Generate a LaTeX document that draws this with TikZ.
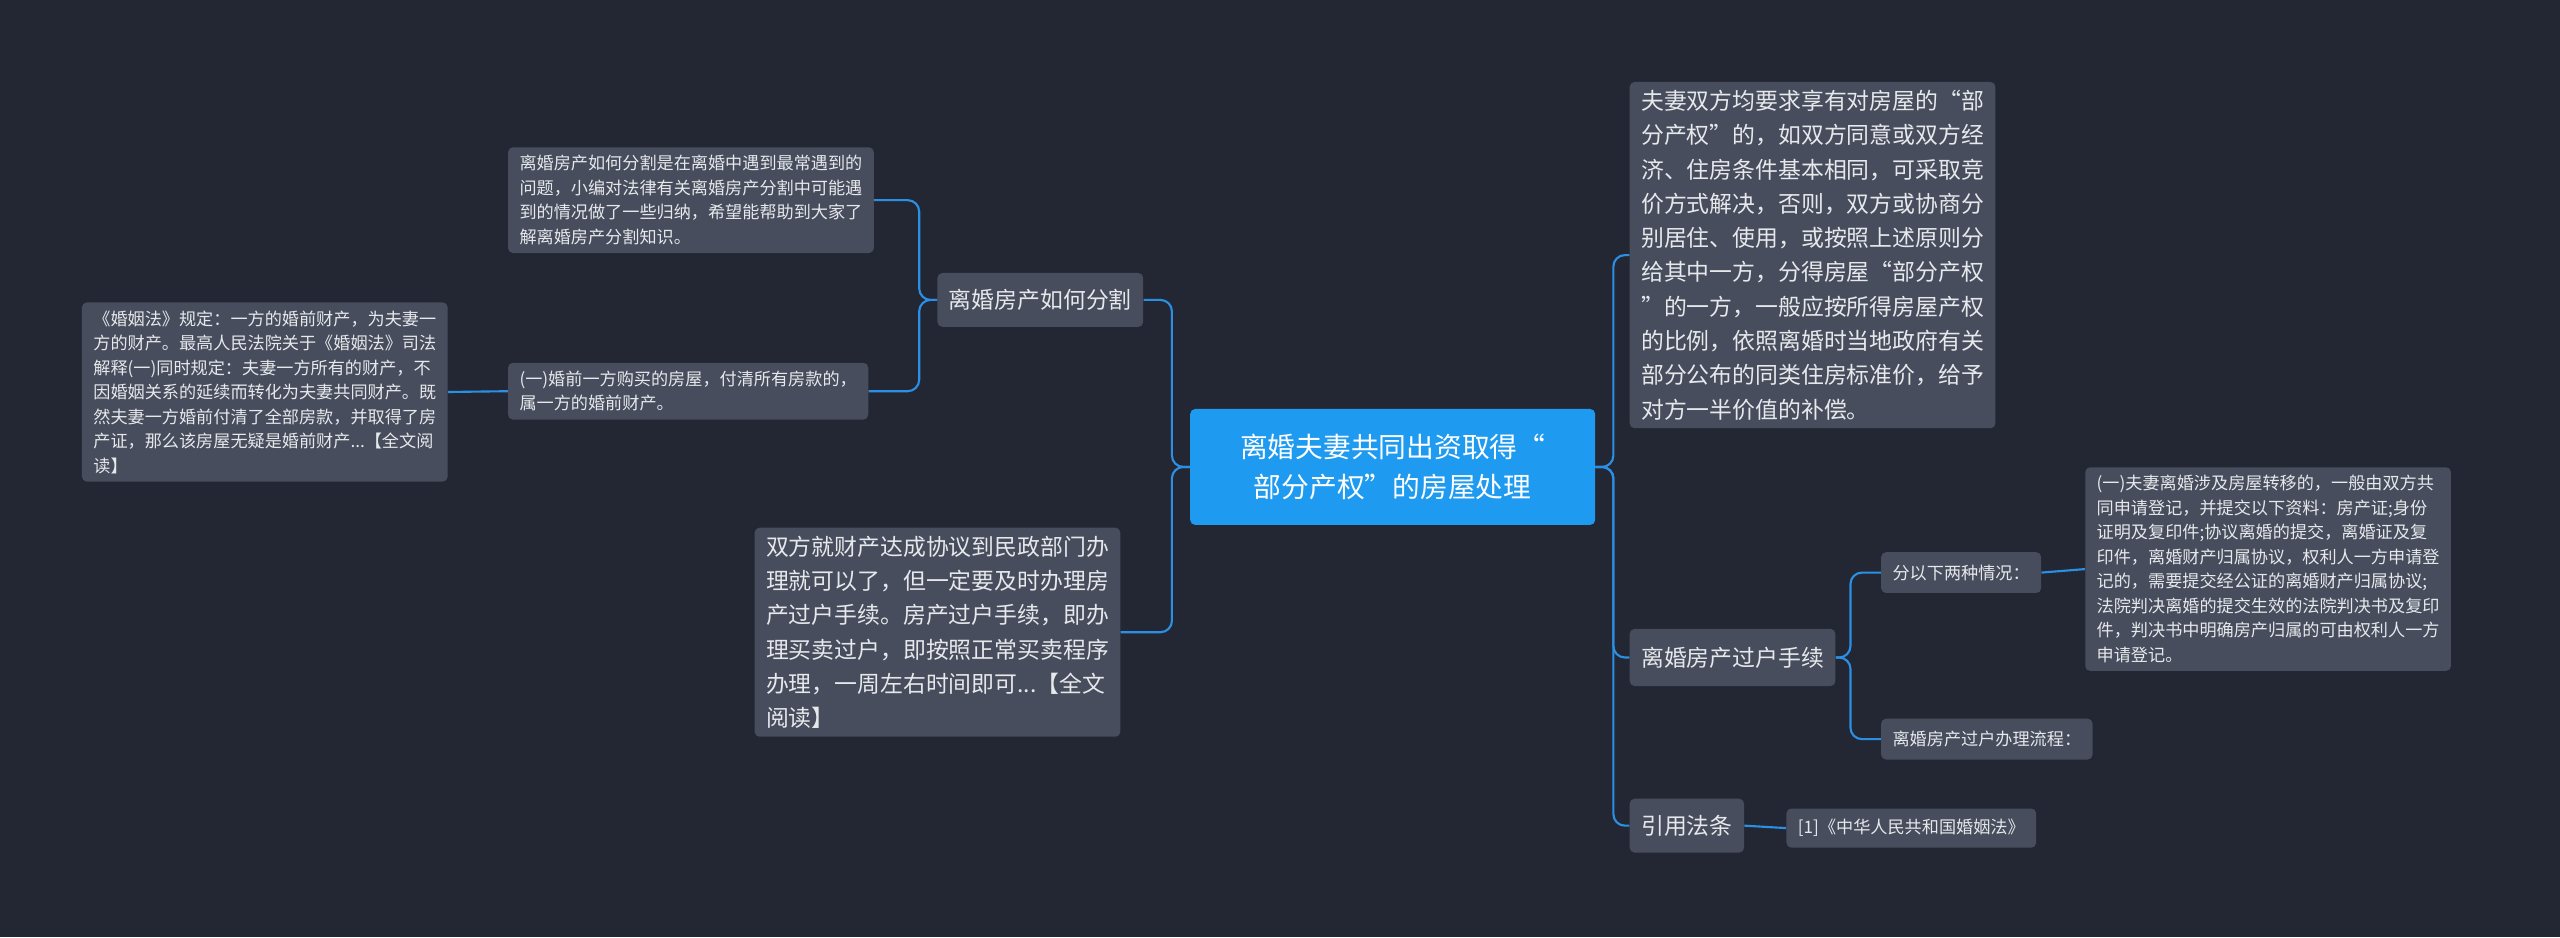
\documentclass[tikz,border=0pt]{standalone}
\usepackage{fontspec}
\setmainfont{Noto Sans CJK SC}
\begin{document}
\begin{tikzpicture}[x=1pt,y=-1pt,
  box/.style={fill=boxc,text=txt,rounded corners=3pt,anchor=north west,align=left,inner xsep=7pt,inner ysep=5pt},
  sm/.style={box,font=\fontsize{10.5}{15}\selectfont},
  md/.style={box,font=\fontsize{14}{21}\selectfont},
  conn/.style={draw=lc,line width=1.3pt,rounded corners=7pt}]
\definecolor{bg}{HTML}{232733}
\definecolor{boxc}{HTML}{474D5C}
\definecolor{txt}{HTML}{E6E8EC}
\definecolor{lc}{HTML}{2B8FE3}
\definecolor{rootc}{HTML}{1E9AF0}
\fill[bg] (0,0) rectangle (1568,574);
\useasboundingbox (0,0) rectangle (1568,574);
\node[fill=rootc,text=white,rounded corners=3pt,align=center,font=\fontsize{17}{25}\selectfont,minimum width=248pt,minimum height=71pt] (root) at (853,286) {离婚夫妻共同出资取得“\\部分产权”的房屋处理};
\node[md,minimum height=33pt] (b1) at (574,167) {离婚房产如何分割};
\node[sm] (la) at (311,90) {离婚房产如何分割是在离婚中遇到最常遇到的\\问题，小编对法律有关离婚房产分割中可能遇\\到的情况做了一些归纳，希望能帮助到大家了\\解离婚房产分割知识。};
\node[sm] (lb) at (311,222) {(一)婚前一方购买的房屋，付清所有房款的，\\属一方的婚前财产。};
\node[sm] (lc) at (50,185) {《婚姻法》规定：一方的婚前财产，为夫妻一\\方的财产。最高人民法院关于《婚姻法》司法\\解释(一)同时规定：夫妻一方所有的财产，不\\因婚姻关系的延续而转化为夫妻共同财产。既\\然夫妻一方婚前付清了全部房款，并取得了房\\产证，那么该房屋无疑是婚前财产...【全文阅\\读】};
\node[md] (b2) at (462,323) {双方就财产达成协议到民政部门办\\理就可以了，但一定要及时办理房\\产过户手续。房产过户手续，即办\\理买卖过户，即按照正常买卖程序\\办理，一周左右时间即可...【全文\\阅读】};
\node[md] (r1) at (998,50) {夫妻双方均要求享有对房屋的“部\\分产权”的，如双方同意或双方经\\济、住房条件基本相同，可采取竞\\价方式解决，否则，双方或协商分\\别居住、使用，或按照上述原则分\\给其中一方，分得房屋“部分产权\\”的一方，一般应按所得房屋产权\\的比例，依照离婚时当地政府有关\\部分公布的同类住房标准价，给予\\对方一半价值的补偿。};
\node[md,minimum height=35pt] (r2) at (998,385) {离婚房产过户手续};
\node[sm,minimum height=25pt] (s1) at (1152,338) {分以下两种情况：};
\node[sm] (s1a) at (1277,286) {(一)夫妻离婚涉及房屋转移的，一般由双方共\\同申请登记，并提交以下资料：房产证;身份\\证明及复印件;协议离婚的提交，离婚证及复\\印件，离婚财产归属协议，权利人一方申请登\\记的，需要提交经公证的离婚财产归属协议;\\法院判决离婚的提交生效的法院判决书及复印\\件，判决书中明确房产归属的可由权利人一方\\申请登记。};
\node[sm,minimum height=25pt] (s2) at (1152,440) {离婚房产过户办理流程：};
\node[md,minimum height=33pt] (r3) at (998,489) {引用法条};
\node[sm,minimum height=24pt] (r3a) at (1094,495) {[1]《中华人民共和国婚姻法》};
\draw[conn] (root.west) -- ++(-11,0) |- (b1.east);
\draw[conn] (root.west) -- ++(-11,0) |- (b2.east);
\draw[conn] (b1.west) -- ++(-11,0) |- (la.east);
\draw[conn] (b1.west) -- ++(-11,0) |- (lb.east);
\draw[conn] (lb.west) -- (lc.east);
\draw[conn] (root.east) -- ++(11,0) |- (r1.west);
\draw[conn] (root.east) -- ++(11,0) |- (r2.west);
\draw[conn] (root.east) -- ++(11,0) |- (r3.west);
\draw[conn] (r2.east) -- ++(9,0) |- (s1.west);
\draw[conn] (r2.east) -- ++(9,0) |- (s2.west);
\draw[conn] (s1.east) -- (s1a.west);
\draw[conn] (r3.east) -- (r3a.west);
\end{tikzpicture}
\end{document}
